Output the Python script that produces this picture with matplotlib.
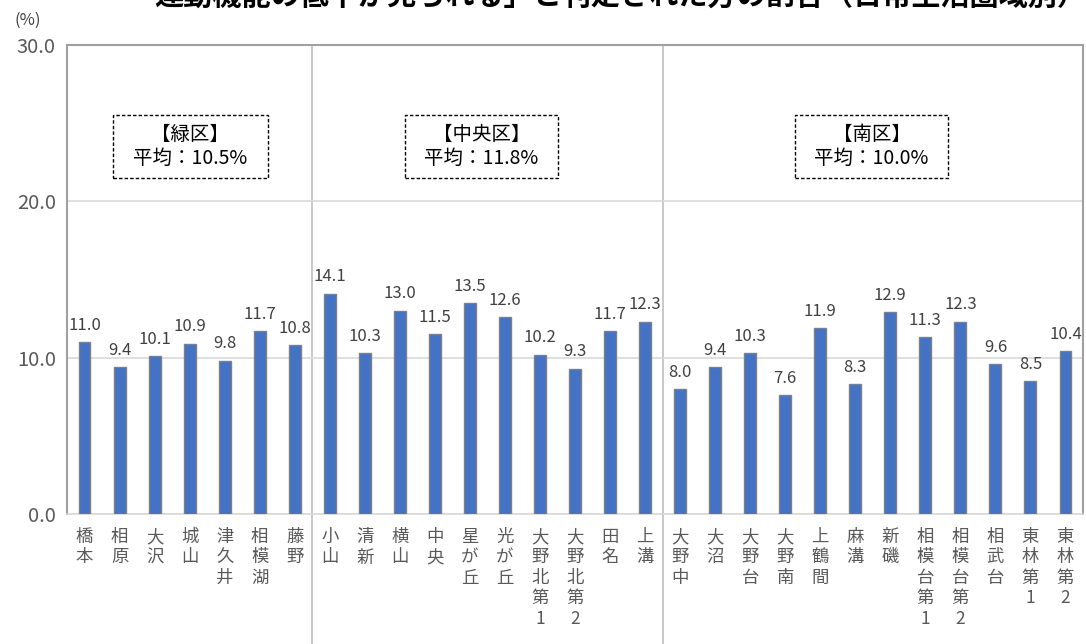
import matplotlib
matplotlib.use("Agg")
import matplotlib.pyplot as plt
from matplotlib.patches import Rectangle
import numpy as np

plt.rcParams['font.family'] = ['Noto Sans CJK JP', 'DejaVu Sans']

title = "運動機能の低下が見られる」と判定された方の割合（日常生活圏域別）"
groups = ["緑区", "中央区", "南区"]
group_avgs = [10.5, 11.8, 10.0]
green_names = ["橋本", "相原", "大沢", "城山", "津久井", "相模湖", "藤野"]
green_vals = [11.0, 9.4, 10.1, 10.9, 9.8, 11.7, 10.8]
central_names = ["小山", "清新", "横山", "中央", "星が丘", "光が丘", "大野北第1", "大野北第2", "田名", "上溝"]
central_vals = [14.1, 10.3, 13.0, 11.5, 13.5, 12.6, 10.2, 9.3, 11.7, 12.3]
south_names = ["大野中", "大沼", "大野台", "大野南", "上鶴間", "麻溝", "新磯", "相模台第1", "相模台第2", "相武台", "東林第1", "東林第2"]
south_vals = [8.0, 9.4, 10.3, 7.6, 11.9, 8.3, 12.9, 11.3, 12.3, 9.6, 8.5, 10.4]
yticks = [0, 10, 20, 30]

names = green_names + central_names + south_names
vals = green_vals + central_vals + south_vals
sizes = [len(green_names), len(central_names), len(south_names)]

W, H = 1086, 644
fig = plt.figure(figsize=(W/100, H/100), dpi=100)
ax = fig.add_axes([67/W, 1-514/H, (1083-67)/W, (514-45)/H])

x = np.arange(len(vals))
ax.bar(x, vals, width=0.34, color='#4472C4', edgecolor='#808080', linewidth=1.0, zorder=3)
for xi, v in zip(x, vals):
    ax.annotate(f"{v:.1f}", (xi, v), xytext=(0, 6), textcoords='offset points',
                ha='center', va='bottom', fontsize=12, color='#404040')

ax.set_xlim(-0.5, len(vals)-0.5)
ax.set_ylim(0, 30)
ax.set_yticks(yticks)
ax.set_yticklabels([f"{t:.1f}" for t in yticks], fontsize=14.5, color='#595959')
ax.tick_params(axis='y', length=0, pad=8)
ax.set_xticks(x)
ax.set_xticklabels(['\n'.join(list(n)) for n in names], fontsize=12.5, color='#595959',
                   va='top', linespacing=1.18)
ax.tick_params(axis='x', length=0, pad=10)
ax.grid(axis='y', color='#d9d9d9', linewidth=1.2, zorder=0)
for s in ['top', 'left', 'right']:
    ax.spines[s].set_color('#a0a0a0')
    ax.spines[s].set_linewidth(1.5)
ax.spines['bottom'].set_color('#d9d9d9')
ax.spines['bottom'].set_linewidth(1.2)

# group separators extending below the axis
pos = 0
for sz in sizes[:-1]:
    pos += sz
    ax.axvline(pos-0.5, ymin=-130/469, ymax=1, color='#bfbfbf', linewidth=1.2, clip_on=False, zorder=1)

# group average boxes
box_x = [(113, 268), (405, 558), (795, 948)]
by0, by1 = 115, 178
for g, avg, (x0, x1) in zip(groups, group_avgs, box_x):
    fig.patches.append(Rectangle((x0/W, 1-by1/H), (x1-x0)/W, (by1-by0)/H,
                                 transform=fig.transFigure, facecolor='white',
                                 edgecolor='#000000', linestyle=(0, (2.5, 1.5)),
                                 linewidth=1.0, zorder=5))
    fig.text((x0+x1)/2/W, 1-(by0+by1)/2/H, f"【{g}】\n平均：{avg:.1f}%", ha='center', va='center',
             fontsize=14, color='#000000', linespacing=1.2, zorder=6)

fig.text(28/W, 1-20/H, "(%)", ha='center', va='center', fontsize=12, color='#404040')
fig.text(620/W, 1+4/H, title, ha='center', va='center', fontsize=21, color='#000000', fontweight='bold')

fig.savefig('out.png', dpi=100)
